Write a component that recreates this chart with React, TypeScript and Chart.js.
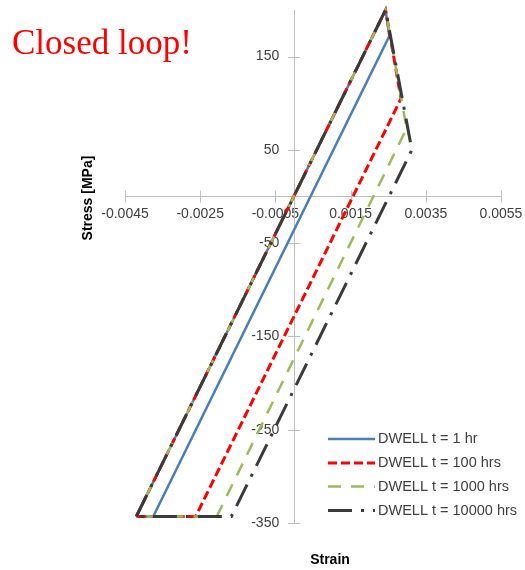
import { useEffect, useRef } from "react";
import { Chart, registerables } from "chart.js";

Chart.register(...registerables);

// ---------- data ----------
const SERIES_LABELS = [
  "DWELL t = 1 hr",
  "DWELL t = 100 hrs",
  "DWELL t = 1000 hrs",
  "DWELL t = 10000 hrs",
];

const STRAIN_1HR = [-0.0042, 0.00243, 0.00253, -0.00375, -0.0042];
const STRESS_1HR = [-343, 200, 172, -343, -343];

const STRAIN_100HRS = [-0.0042, 0.00243, 0.00284, -0.00262, -0.0042];
const STRESS_100HRS = [-343, 200, 105, -343, -343];

const STRAIN_1000HRS = [-0.0042, 0.00243, 0.00299, -0.00206, -0.0042];
const STRESS_1000HRS = [-343, 200, 73, -343, -343];

const STRAIN_10000HRS = [-0.0042, 0.00243, 0.00313, -0.00167, -0.0042];
const STRESS_10000HRS = [-343, 200, 50, -343, -343];

const X_TICKS = [-0.0045, -0.0025, -0.0005, 0.0015, 0.0035, 0.0055];
const X_TICK_LABELS = ["-0.0045", "-0.0025", "-0.0005", "0.0015", "0.0035", "0.0055"];
const Y_TICKS = [-350, -250, -150, -50, 50, 150];
const Y_TICK_LABELS = ["-350", "-250", "-150", "-50", "50", "150"];

const X_MIN = -0.0045;
const X_MAX = 0.0055;
const Y_MIN = -350;
const Y_MAX = 200;

const X_TITLE = "Strain";
const Y_TITLE = "Stress [MPa]";
const NOTE = "Closed loop!";

// ---------- styles ----------
const COLORS = ["#4a7ebb", "#ff0000", "#9bbb59", "#3a3a3a"];
const DASHES: number[][] = [[], [9, 4], [13, 10], [24, 9, 3, 9]];
const WIDTHS = [2.5, 3, 2.5, 3];
const AXIS_COLOR = "#bfbfbf";
const TEXT_COLOR = "#404040";
const FONT_FAMILY = "'Liberation Sans', Arial, sans-serif";

function toPoints(xs: number[], ys: number[]) {
  return xs.map((x, i) => ({ x, y: ys[i] }));
}

const SERIES_DATA = [
  toPoints(STRAIN_1HR, STRESS_1HR),
  toPoints(STRAIN_100HRS, STRESS_100HRS),
  toPoints(STRAIN_1000HRS, STRESS_1000HRS),
  toPoints(STRAIN_10000HRS, STRESS_10000HRS),
];

function labelFor(values: number[], labels: string[], v: number) {
  let best = 0;
  for (let i = 1; i < values.length; i++) {
    if (Math.abs(values[i] - v) < Math.abs(values[best] - v)) best = i;
  }
  return labels[best];
}

function zeroPadding(s: any) {
  s.paddingLeft = 0;
  s.paddingRight = 0;
  s.paddingTop = 0;
  s.paddingBottom = 0;
}

const decorPlugin = {
  id: "decor",
  beforeDatasetsDraw(chart: any) {
    const ctx = chart.ctx;
    const xs = chart.scales.x;
    const ys = chart.scales.y;
    const x0 = xs.getPixelForValue(0);
    const y0 = ys.getPixelForValue(0);
    ctx.save();
    ctx.strokeStyle = AXIS_COLOR;
    ctx.lineWidth = 1;
    ctx.beginPath();
    X_TICKS.forEach((v) => {
      const px = Math.round(xs.getPixelForValue(v)) + 0.5;
      ctx.moveTo(px, y0 - 6);
      ctx.lineTo(px, y0 + 6);
    });
    Y_TICKS.forEach((v) => {
      const py = Math.round(ys.getPixelForValue(v)) + 0.5;
      ctx.moveTo(x0 - 6, py);
      ctx.lineTo(x0 + 6, py);
    });
    ctx.stroke();
    // y tick labels (left of the vertical axis)
    ctx.fillStyle = TEXT_COLOR;
    ctx.font = "14px " + FONT_FAMILY;
    ctx.textAlign = "right";
    ctx.textBaseline = "middle";
    Y_TICKS.forEach((v, i) => {
      ctx.fillText(Y_TICK_LABELS[i], x0 - 15, ys.getPixelForValue(v));
    });
    ctx.restore();
  },
  afterDraw(chart: any) {
    const ctx = chart.ctx;
    ctx.save();
    // note
    ctx.fillStyle = "#ff0000";
    ctx.font = "35px 'Liberation Serif', 'Times New Roman', serif";
    ctx.textAlign = "left";
    ctx.textBaseline = "alphabetic";
    ctx.fillText(NOTE, 12, 54);

    // axis titles
    ctx.fillStyle = "#000000";
    ctx.font = "bold 14px " + FONT_FAMILY;
    ctx.textAlign = "center";
    ctx.textBaseline = "middle";
    ctx.fillText(X_TITLE, 330, 560);
    ctx.save();
    ctx.translate(88, 198);
    ctx.rotate(-Math.PI / 2);
    ctx.fillText(Y_TITLE, 0, 0);
    ctx.restore();

    // legend
    const rows = [439, 463, 486.5, 510.5];
    SERIES_LABELS.forEach((lab, i) => {
      const y = rows[i];
      ctx.save();
      ctx.strokeStyle = COLORS[i];
      ctx.lineWidth = WIDTHS[i];
      ctx.setLineDash(DASHES[i]);
      ctx.beginPath();
      ctx.moveTo(328, y);
      ctx.lineTo(375, y);
      ctx.stroke();
      ctx.restore();
      ctx.fillStyle = TEXT_COLOR;
      ctx.font = "14.5px " + FONT_FAMILY;
      ctx.textAlign = "left";
      ctx.textBaseline = "middle";
      ctx.fillText(lab, 378, y);
    });
    ctx.restore();
  },
};

export default function App() {
  const ref = useRef<HTMLCanvasElement | null>(null);

  useEffect(() => {
    if (!ref.current) return;
    const chart = new Chart(ref.current, {
      type: "scatter",
      data: {
        datasets: SERIES_LABELS.map((label, i) => ({
          label,
          data: SERIES_DATA[i],
          showLine: true,
          borderColor: COLORS[i],
          backgroundColor: COLORS[i],
          borderWidth: WIDTHS[i],
          borderDash: DASHES[i],
          pointRadius: 0,
          pointHoverRadius: 0,
          fill: false,
          tension: 0,
          order: SERIES_LABELS.length - i,
          clip: 6,
        })),
      },
      options: {
        responsive: false,
        animation: false,
        devicePixelRatio: 1,
        layout: { padding: { left: 125, right: 24, top: 10, bottom: 47 } },
        plugins: {
          legend: { display: false },
          tooltip: { enabled: false },
          title: { display: false },
        },
        scales: {
          x: {
            type: "linear",
            position: { y: 0 },
            min: X_MIN,
            max: X_MAX,
            afterBuildTicks: (s: any) => {
              s.ticks = X_TICKS.map((v) => ({ value: v }));
            },
            afterFit: zeroPadding,
            ticks: {
              autoSkip: false,
              maxRotation: 0,
              padding: 9,
              color: TEXT_COLOR,
              font: { family: FONT_FAMILY, size: 14 },
              callback: (v: any) => labelFor(X_TICKS, X_TICK_LABELS, Number(v)),
            },
            grid: { drawOnChartArea: false, drawTicks: false },
            border: { display: true, color: AXIS_COLOR, width: 1 },
          },
          y: {
            type: "linear",
            position: { x: 0 },
            min: Y_MIN,
            max: Y_MAX,
            afterBuildTicks: (s: any) => {
              s.ticks = Y_TICKS.map((v) => ({ value: v }));
            },
            afterFit: zeroPadding,
            ticks: { display: false },
            grid: { drawOnChartArea: false, drawTicks: false },
            border: { display: true, color: AXIS_COLOR, width: 1 },
          },
        },
      },
      plugins: [decorPlugin],
    } as any);
    return () => chart.destroy();
  }, []);

  return (
    <div style={{ position: "absolute", left: 0, top: 0, width: 525, height: 570, background: "#ffffff" }}>
      <canvas ref={ref} width={525} height={570} style={{ display: "block" }} />
    </div>
  );
}
